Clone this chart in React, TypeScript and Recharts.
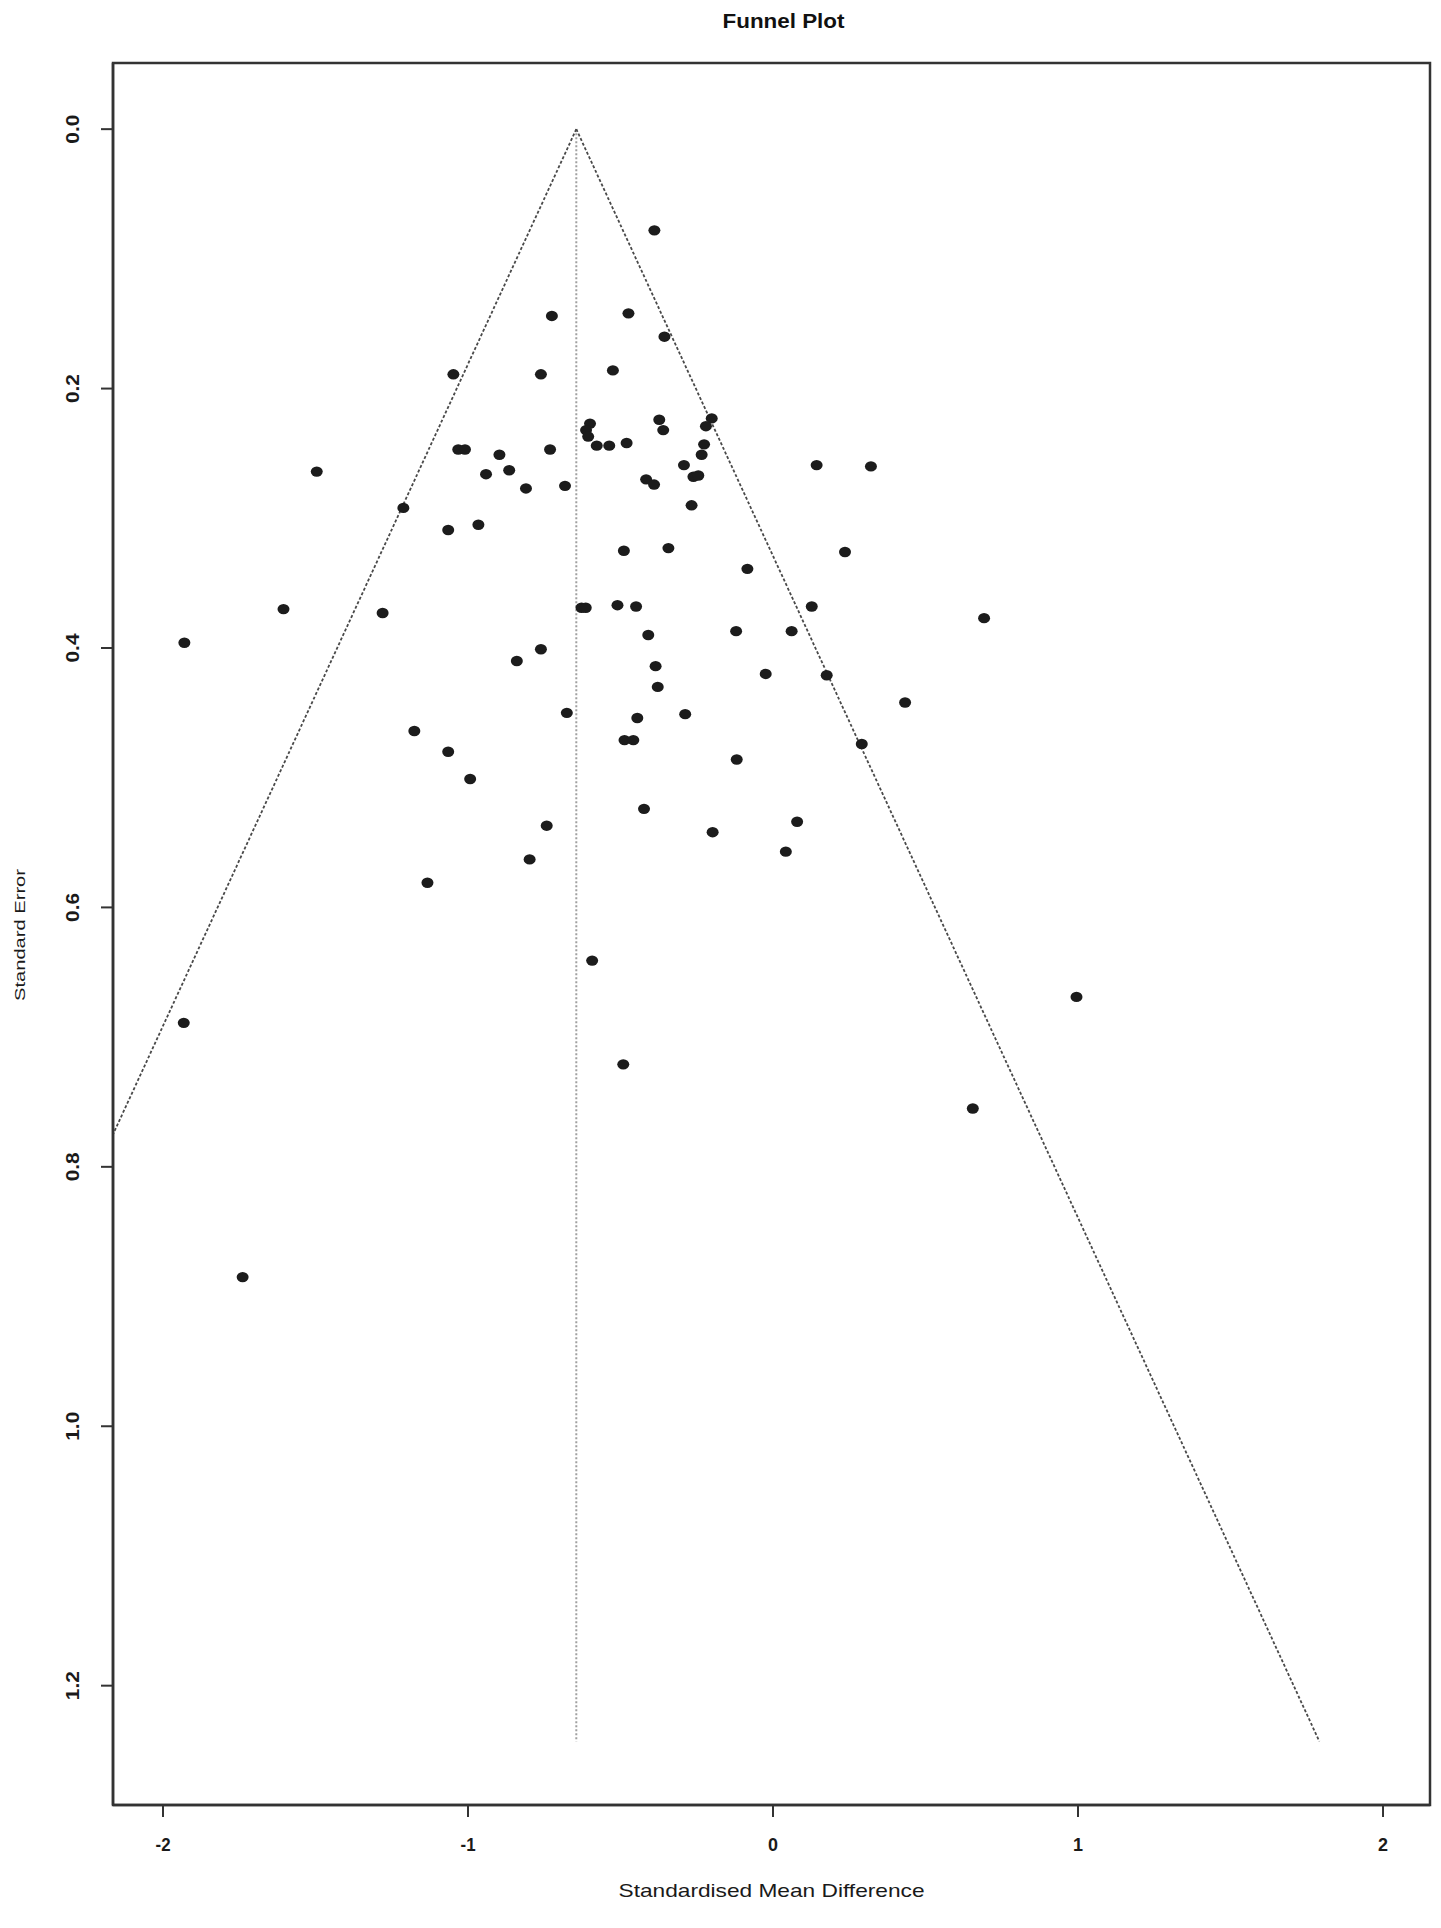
import React from 'react';
import { ScatterChart, Scatter, XAxis, YAxis, ReferenceLine, ReferenceArea, Label } from 'recharts';

// Study effect sizes (standardised mean difference) and their standard errors
const studySMD = [
  -0.389, -0.725, -0.474, -0.356, -1.048, -0.761, -0.525, -0.600, -0.613, -0.606,
  -0.578, -0.537, -0.480, -0.373, -0.360, -0.201, -0.220, -0.226, -0.234, -1.032,
  -1.010, -0.897, -0.731, -0.941, -0.865, -0.810, -0.682, -0.292, -0.416, -0.390,
  -0.261, -0.245, 0.143, 0.321, -0.267, -1.065, -0.966, -0.489, -0.343, -0.628,
  -0.614, -0.510, -0.449, -0.409, -0.761, -0.840, -0.385, -0.378, -0.676, -0.445,
  -0.288, -0.487, -0.458, -1.065, -0.993, 0.236, -0.084, 0.127, 0.692, -0.121,
  0.061, -0.024, 0.176, 0.433, 0.291, -0.119, -1.496, -1.212, -1.605, -1.280,
  -1.930, -1.176, -0.423, -0.742, -0.198, 0.079, 0.042, -0.798, -1.133, -0.593,
  -1.932, 0.995, -0.491, 0.655, -1.739,
];
const studySE = [
  0.078, 0.144, 0.142, 0.160, 0.189, 0.189, 0.186, 0.227, 0.232, 0.237,
  0.244, 0.244, 0.242, 0.224, 0.232, 0.223, 0.229, 0.243, 0.251, 0.247,
  0.247, 0.251, 0.247, 0.266, 0.263, 0.277, 0.275, 0.259, 0.270, 0.274,
  0.268, 0.267, 0.259, 0.260, 0.290, 0.309, 0.305, 0.325, 0.323, 0.369,
  0.369, 0.367, 0.368, 0.390, 0.401, 0.410, 0.414, 0.430, 0.450, 0.454,
  0.451, 0.471, 0.471, 0.480, 0.501, 0.326, 0.339, 0.368, 0.377, 0.387,
  0.387, 0.420, 0.421, 0.442, 0.474, 0.486, 0.264, 0.292, 0.370, 0.373,
  0.396, 0.464, 0.524, 0.537, 0.542, 0.534, 0.557, 0.563, 0.581, 0.641,
  0.689, 0.669, 0.721, 0.755, 0.885,
];

const pooledSMD = -0.645;
const maxSE = 1.243;
const zCrit = 1.96;

const xTicks = [-2, -1, 0, 1, 2];
const yTicks = [0, 0.2, 0.4, 0.6, 0.8, 1.0, 1.2];
const xDomain = [-2.164, 2.154];
const yDomain = [-0.051, 1.292];

const chartTitle = 'Funnel Plot';
const xTitle = 'Standardised Mean Difference';
const yTitle = 'Standard Error';

const points = studySMD.map((x, i) => ({ x, y: studySE[i] }));
const centreLine = [{ x: pooledSMD, y: 0 }, { x: pooledSMD, y: maxSE }];
const leftLimit = [{ x: pooledSMD, y: 0 }, { x: pooledSMD - zCrit * maxSE, y: maxSE }];
const rightLimit = [{ x: pooledSMD, y: 0 }, { x: pooledSMD + zCrit * maxSE, y: maxSE }];

const FONT = '"Liberation Sans", Arial, Helvetica, sans-serif';
const INK = '#1a1a1a';

const XTick = (props: any) => {
  const { x, y, payload } = props;
  const s = String(payload.value);
  return (
    <text x={x} y={y + 25} textAnchor="middle" dominantBaseline="central"
      fontFamily={FONT} fontSize={19} fontWeight="bold" fill={INK}
      textLength={s.length > 1 ? 15 : 10} lengthAdjust="spacingAndGlyphs">
      {s}
    </text>
  );
};

const YTick = (props: any) => {
  const { x, y, payload } = props;
  const cx = x - 26;
  return (
    <text x={cx} y={y} transform={`rotate(-90 ${cx} ${y})`} textAnchor="middle"
      dominantBaseline="central" fontFamily={FONT} fontSize={19} fontWeight="bold"
      fill={INK} textLength={29} lengthAdjust="spacingAndGlyphs">
      {Number(payload.value).toFixed(1)}
    </text>
  );
};

const XTitle = (props: any) => {
  const vb = props.viewBox || { x: 113, width: 1317 };
  const cx = vb.x + vb.width / 2;
  return (
    <text x={cx} y={1890} textAnchor="middle" dominantBaseline="central"
      fontFamily={FONT} fontSize={19} fill="#1a1a1a" textLength={306}
      lengthAdjust="spacingAndGlyphs">
      {xTitle}
    </text>
  );
};

const TitleLabel = (props: any) => {
  const vb = props.viewBox || { x: 113, width: 1317 };
  const cx = vb.x + vb.width / 2 + 12;
  return (
    <text x={cx} y={20} textAnchor="middle" dominantBaseline="central"
      fontFamily={FONT} fontSize={21} fontWeight="bold" fill="#111"
      textLength={122} lengthAdjust="spacingAndGlyphs">
      {chartTitle}
    </text>
  );
};

const YTitle = () => {
  const cx = 20;
  const cy = 935;
  return (
    <text x={cx} y={cy} transform={`rotate(-90 ${cx} ${cy})`} textAnchor="middle"
      dominantBaseline="central" fontFamily={FONT} fontSize={14} fill="#1a1a1a"
      textLength={132} lengthAdjust="spacingAndGlyphs">
      {yTitle}
    </text>
  );
};

const Dot = (props: any) => {
  const { cx, cy } = props;
  return <ellipse cx={cx} cy={cy} rx={6} ry={5.2} fill="#1c1c1c" />;
};

export default function App() {
  return (
    <div style={{ position: 'absolute', left: 0, top: 0, width: 1441, height: 1928, background: '#fff' }}>
      <ScatterChart width={1441} height={1928} margin={{ top: 63, right: 11, bottom: 0, left: 0 }}>
        <XAxis
          dataKey="x"
          type="number"
          domain={xDomain}
          ticks={xTicks}
          allowDataOverflow
          height={123}
          axisLine={{ stroke: '#333', strokeWidth: 2.5 }}
          tickLine={{ stroke: '#333', strokeWidth: 2 }}
          tickSize={12}
          tick={<XTick />}
          interval={0}
        >
          <Label content={<XTitle />} />
        </XAxis>
        <YAxis
          dataKey="y"
          type="number"
          domain={yDomain}
          ticks={yTicks}
          reversed
          allowDataOverflow
          width={113}
          axisLine={{ stroke: '#333', strokeWidth: 2.5 }}
          tickLine={{ stroke: '#333', strokeWidth: 2 }}
          tickSize={12}
          tick={<YTick />}
          interval={0}
        >
          <Label content={<YTitle />} />
        </YAxis>
        <ReferenceArea
          x1={xDomain[0]}
          x2={xDomain[1]}
          y1={yDomain[0]}
          y2={yDomain[1]}
          fill="none"
          fillOpacity={0}
          stroke="#333"
          strokeWidth={2.5}
          ifOverflow="visible"
          label={<TitleLabel />}
        />
        <ReferenceLine segment={centreLine} stroke="#a0a0a0" strokeWidth={2} strokeDasharray="2 2" ifOverflow="hidden" />
        <ReferenceLine segment={leftLimit} stroke="#4a4a4a" strokeWidth={1.8} strokeDasharray="3 2" ifOverflow="hidden" />
        <ReferenceLine segment={rightLimit} stroke="#4a4a4a" strokeWidth={1.8} strokeDasharray="3 2" ifOverflow="hidden" />
        <Scatter data={points} shape={<Dot />} isAnimationActive={false} />
      </ScatterChart>
    </div>
  );
}
